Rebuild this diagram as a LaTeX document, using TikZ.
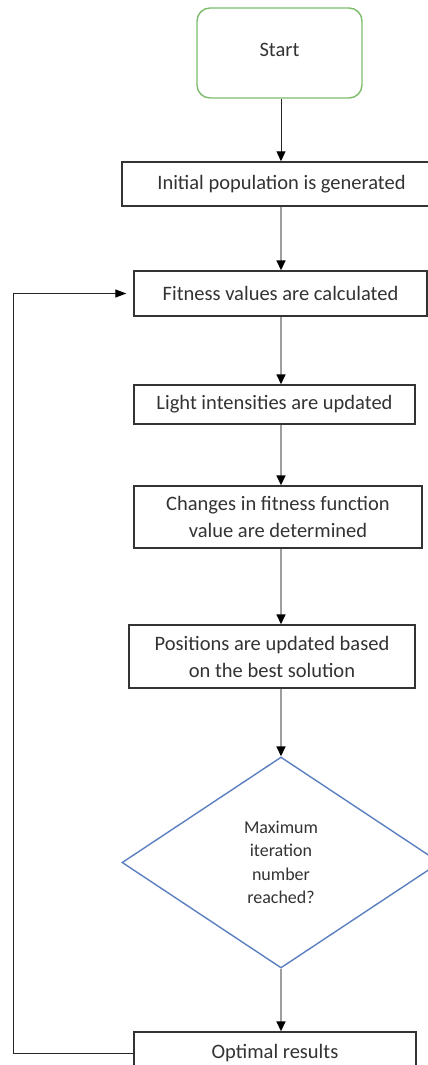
\documentclass[tikz,border=0pt]{standalone}
\usepackage{fontspec}
\setmainfont{Carlito}
\usetikzlibrary{shapes.geometric,arrows.meta}
\definecolor{boxline}{HTML}{333333}
\definecolor{txt}{HTML}{333333}
\definecolor{startgreen}{HTML}{7DBD6C}
\definecolor{diamblue}{HTML}{5B80C2}
\definecolor{flowgray}{HTML}{9E9E9E}
\tikzset{
  procbox/.style={draw=boxline, line width=1.4pt, rectangle, inner sep=0pt, align=center,
    text=txt, font=\fontsize{20.5}{27}\selectfont},
  startbox/.style={draw=startgreen, line width=1.4pt, rectangle, rounded corners=13pt,
    inner sep=0pt, text=txt, font=\fontsize{20.5}{25}\selectfont},
  decbox/.style={draw=diamblue, line width=1.4pt, diamond, inner sep=0pt, align=center,
    text=txt, font=\fontsize{18}{23.5}\selectfont},
  flow/.style={draw=flowgray, line width=1.6pt, -{Triangle[color=black,width=9pt,length=10pt]}},
  firstflow/.style={draw=black!85, line width=0.9pt, -{Triangle[color=black,width=9pt,length=10pt]}},
  backflow/.style={draw=black!85, line width=1.3pt, -{Triangle[color=black,width=8pt,length=11pt]}, shorten >=7pt}
}
\begin{document}
\begin{tikzpicture}[x=1pt,y=1pt]
\useasboundingbox (0,0) rectangle (428,-1065);
\clip (0,0) rectangle (428,-1065);
\fill[white] (0,0) rectangle (428,-1065);
\coordinate (col) at (281,0);
\coordinate (loopx) at (13.5,0);

\node[startbox, minimum width=165pt, minimum height=90pt] (start) at (279.5,-53) {\raisebox{6pt}{Start}};
\node[procbox, minimum width=319pt, minimum height=44pt] (init) at (281.5,-184) {Initial population is generated};
\node[procbox, minimum width=293pt, minimum height=45pt] (fit) at (280.5,-293.5) {Fitness values are calculated};
\node[procbox, minimum width=281pt, minimum height=39pt] (light) at (274.5,-404.5) {Light intensities are updated};
\node[procbox, minimum width=288pt, minimum height=62pt] (chg) at (278,-517) {Changes in fitness function\\value are determined};
\node[procbox, minimum width=286pt, minimum height=63pt] (pos) at (272,-656.5) {Positions are updated based\\on the best solution};
\node[decbox, minimum width=318pt, minimum height=211pt] (dec) at (281,-862.5) {Maximum\\iteration\\number\\reached?};
\node[procbox, minimum width=282pt, minimum height=43pt] (opt) at (275,-1053.5) {Optimal results};

\draw[firstflow] (start.south -| col) -- (init.north -| col);
\draw[flow] (init.south -| col) -- (fit.north -| col);
\draw[flow] (fit.south -| col) -- (light.north -| col);
\draw[flow] (light.south -| col) -- (chg.north -| col);
\draw[flow] (chg.south -| col) -- (pos.north -| col);
\draw[flow] (pos.south -| col) -- (dec.north);
\draw[flow] (dec.south) -- (opt.north -| col);
\draw[backflow] (opt.west) -- (opt.west -| loopx) -- (fit.west -| loopx) -- (fit.west);
\end{tikzpicture}
\end{document}
